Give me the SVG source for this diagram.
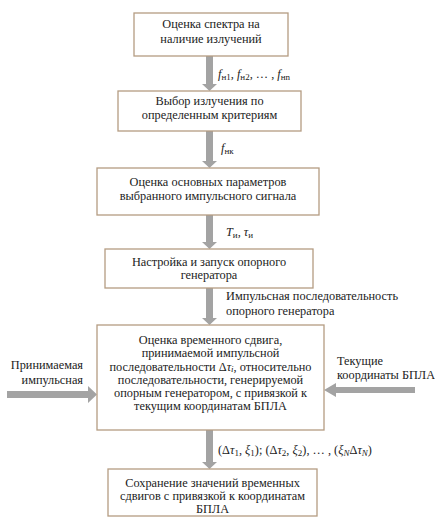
<svg xmlns="http://www.w3.org/2000/svg" width="435" height="522" viewBox="0 0 435 522">
<style>
.box{fill:#fff;stroke:#b49c82;stroke-width:1.3}
.t{font-family:"Liberation Serif","Times New Roman",serif;font-size:12.3px;fill:#222;text-anchor:middle}
.l{font-family:"Liberation Serif","Times New Roman",serif;font-size:12.3px;fill:#222}
.i{font-style:italic}
.s{font-size:9px}
.arr{fill:#a3a3a3}
</style>
<rect width="435" height="522" fill="#fff"/>
<g id="connectors">
<path class="arr" d="M206,56 H213 V84 H217 L209.5,91 L202,84 H206 Z"/>
<path class="arr" d="M206,131 H213 V161 H217 L209.5,168 L202,161 H206 Z"/>
<path class="arr" d="M206,215 H213 V242 H217 L209.5,249 L202,242 H206 Z"/>
<path class="arr" d="M206,288 H213 V318 H217 L209.5,325 L202,318 H206 Z"/>
<path class="arr" d="M206,430 H213 V462 H217 L209.5,469 L202,462 H206 Z"/>
<path class="arr" d="M7,391 H88 V386 L97,394.5 L88,403 V398 H7 Z"/>
<path class="arr" d="M415,387 H336 V383 L324,390 L336,397 V393 H415 Z"/>
</g>
<g id="labels">
<text class="l" x="218" y="78"><tspan class="i">f</tspan><tspan class="s" dy="2">н1</tspan><tspan dy="-2">, </tspan><tspan class="i">f</tspan><tspan class="s" dy="2">н2</tspan><tspan dy="-2">, … , </tspan><tspan class="i">f</tspan><tspan class="s" dy="2">нn</tspan></text>
<text class="l" x="221" y="152"><tspan class="i">f</tspan><tspan class="s" dy="2">нк</tspan></text>
<text class="l" x="226" y="236"><tspan class="i">T</tspan><tspan class="s" dy="2">и</tspan><tspan dy="-2">, </tspan><tspan class="i">τ</tspan><tspan class="s" dy="2">и</tspan></text>
<text class="l" x="226" y="300">Импульсная последовательность</text>
<text class="l" x="226" y="315">опорного генератора</text>
<text class="l" x="83" y="369" text-anchor="end">Принимаемая</text>
<text class="l" x="83" y="384" text-anchor="end">импульсная</text>
<text class="l" x="337" y="365">Текущие</text>
<text class="l" x="337" y="379">координаты БПЛА</text>
<text class="l" x="218" y="454">(Δ<tspan class="i">τ</tspan><tspan class="s" dy="2">1</tspan><tspan dy="-2">, </tspan><tspan class="i">ξ</tspan><tspan class="s" dy="2">1</tspan><tspan dy="-2">); (Δ</tspan><tspan class="i">τ</tspan><tspan class="s" dy="2">2</tspan><tspan dy="-2">, </tspan><tspan class="i">ξ</tspan><tspan class="s" dy="2">2</tspan><tspan dy="-2">), … , (</tspan><tspan class="i">ξ</tspan><tspan class="s i" dy="2">N</tspan><tspan dy="-2">Δ</tspan><tspan class="i">τ</tspan><tspan class="s i" dy="2">N</tspan><tspan dy="-2">)</tspan></text>
</g>
<g id="node1">
<rect class="box" x="134" y="13" width="154" height="43"/>
<text class="t" x="211" y="28">Оценка спектра на</text>
<text class="t" x="211" y="43">наличие излучений</text>
</g>
<g id="node2">
<rect class="box" x="118" y="91" width="183" height="40"/>
<text class="t" x="209.5" y="105">Выбор излучения по</text>
<text class="t" x="209.5" y="119">определенным критериям</text>
</g>
<g id="node3">
<rect class="box" x="97" y="168" width="222" height="47"/>
<text class="t" x="208" y="186">Оценка основных параметров</text>
<text class="t" x="208" y="200">выбранного импульсного сигнала</text>
</g>
<g id="node4">
<rect class="box" x="105" y="249" width="208" height="39"/>
<text class="t" x="209" y="266">Настройка и запуск опорного</text>
<text class="t" x="209" y="279">генератора</text>
</g>
<g id="node5">
<rect class="box" x="97" y="325" width="227" height="105"/>
<text class="t" x="210.5" y="344">Оценка временного сдвига,</text>
<text class="t" x="210.5" y="357">принимаемой импульсной</text>
<text class="t" x="210.5" y="370.5">последовательности Δ<tspan class="i">τ</tspan><tspan class="s i" dy="1.5">i</tspan><tspan dy="-1.5">,  относительно</tspan></text>
<text class="t" x="210.5" y="384">последовательности, генерируемой</text>
<text class="t" x="210.5" y="397">опорным генератором, с привязкой к</text>
<text class="t" x="210.5" y="410">текущим координатам БПЛА</text>
</g>
<g id="node6">
<rect class="box" x="108" y="469" width="209" height="47"/>
<text class="t" x="212.5" y="487">Сохранение значений временных</text>
<text class="t" x="212.5" y="500">сдвигов с привязкой к координатам</text>
<text class="t" x="212.5" y="513">БПЛА</text>
</g>
</svg>
